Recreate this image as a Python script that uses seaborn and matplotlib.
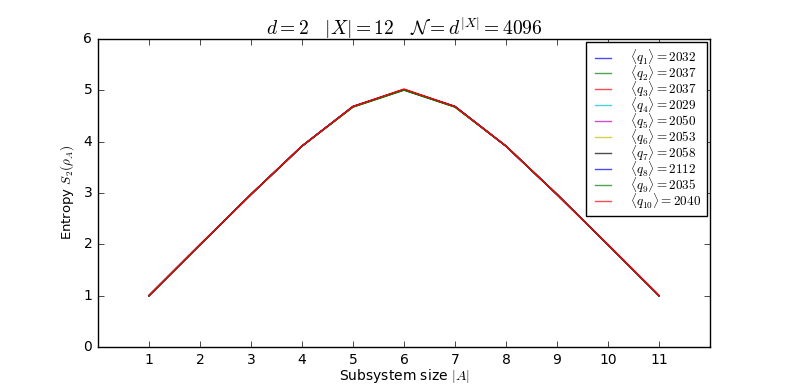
import pandas as pd
import numpy as np
import seaborn as sns
import matplotlib.pyplot as plt

plt.style.use('classic')
plt.rcParams['figure.facecolor'] = 'white'
plt.rcParams['savefig.facecolor'] = 'white'
plt.rcParams['mathtext.fontset'] = 'cm'
plt.rcParams['font.family'] = ['DejaVu Sans']

# subsystem sizes |A|
sizes = [1, 2, 3, 4, 5, 6, 7, 8, 9, 10, 11]

# mean q for each run (legend)
q_means = [2032, 2037, 2037, 2029, 2050, 2053, 2058, 2112, 2035, 2040]

# Renyi-2 entropy for each run
s_q1 = [0.999, 1.99, 2.97, 3.91, 4.68, 5.01, 4.68, 3.91, 2.97, 1.99, 0.999]
s_q2 = [0.999, 1.99, 2.97, 3.91, 4.67, 5.00, 4.67, 3.91, 2.97, 1.99, 0.999]
s_q3 = [0.999, 1.99, 2.97, 3.91, 4.68, 5.01, 4.68, 3.91, 2.97, 1.99, 0.999]
s_q4 = [0.999, 1.99, 2.97, 3.91, 4.68, 5.01, 4.68, 3.91, 2.97, 1.99, 0.999]
s_q5 = [0.999, 1.99, 2.97, 3.91, 4.68, 5.01, 4.68, 3.91, 2.97, 1.99, 0.999]
s_q6 = [0.999, 1.99, 2.97, 3.91, 4.68, 5.01, 4.68, 3.91, 2.97, 1.99, 0.999]
s_q7 = [0.999, 1.99, 2.97, 3.91, 4.68, 5.01, 4.68, 3.91, 2.97, 1.99, 0.999]
s_q8 = [0.999, 1.99, 2.97, 3.91, 4.68, 5.01, 4.68, 3.91, 2.97, 1.99, 0.999]
s_q9 = [0.999, 1.99, 2.97, 3.91, 4.67, 5.00, 4.67, 3.91, 2.97, 1.99, 0.999]
s_q10 = [0.999, 1.99, 2.97, 3.91, 4.68, 5.02, 4.68, 3.91, 2.97, 1.99, 0.999]
all_runs = [s_q1, s_q2, s_q3, s_q4, s_q5, s_q6, s_q7, s_q8, s_q9, s_q10]

colors = ['b', 'g', 'r', 'c', 'm', 'y', 'k', 'b', 'g', 'r']

rows = []
for i, (q, vals) in enumerate(zip(q_means, all_runs)):
    lab = r'$\langle q_{%d} \rangle = %d$' % (i + 1, q)
    for a, s in zip(sizes, vals):
        rows.append({'A': a, 'S2': s, 'run': lab})
df = pd.DataFrame(rows)
labels = list(dict.fromkeys(df['run']))

fig = plt.figure(figsize=(7.89, 3.87), dpi=100)
ax = fig.add_axes([0.124, 0.103, 0.776, 0.797])
sns.lineplot(data=df, x='A', y='S2', hue='run', hue_order=labels,
             palette=colors, estimator=None, sort=False, linewidth=1, ax=ax)

ax.set_xlim(0, 12)
ax.set_ylim(0, 6)
ax.set_xticks(sizes)
ax.set_yticks([0, 1, 2, 3, 4, 5, 6])
ax.tick_params(labelsize=10)
ax.set_xlabel(r'Subsystem size $|A|$', fontsize=10, labelpad=0)
ax.set_ylabel(r'Entropy $S_2(\rho_A)$', fontsize=9.5)
ax.set_title(r'$d = 2 \quad |X| = 12 \quad \mathcal{N} = d^{|X|} = 4096$',
             fontsize=14, pad=3)
leg = ax.legend(loc='upper right', fontsize=9.5, frameon=True, borderaxespad=0.25,
                handlelength=1.8, handletextpad=1.2, labelspacing=-0.3,
                borderpad=0.4)
for h in leg.get_lines():
    h.set_alpha(0.7)

plt.savefig('out.png', dpi=100)
